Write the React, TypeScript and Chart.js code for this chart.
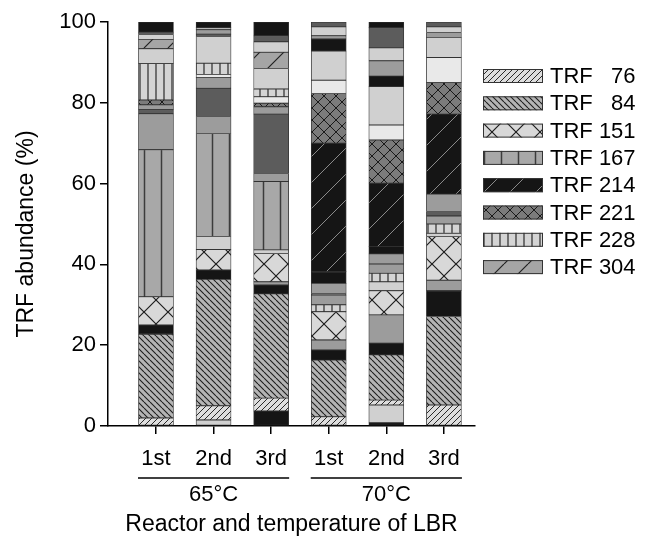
import React, { useEffect, useRef } from 'react';
import { Chart, registerables } from 'chart.js';

Chart.register(...registerables);

const categories = ['1st', '2nd', '3rd', '1st', '2nd', '3rd'];
const groupLabels = ['65°C', '70°C'];
const yTicks = [0, 20, 40, 60, 80, 100];
const legendKeys = ['T76', 'T84', 'T151', 'T167', 'T214', 'T221', 'T228', 'T304'];
const legendLabels = ['TRF   76', 'TRF   84', 'TRF 151', 'TRF 167', 'TRF 214', 'TRF 221', 'TRF 228', 'TRF 304'];

// Segments bottom -> top. T* = TRF fragments in legend; K/D/M/L/W = other (unlabelled) TRFs
const bar1Types = ['T76', 'T84', 'K', 'T151', 'T167', 'M', 'D', 'M', 'T221', 'T228', 'L', 'T304', 'L', 'D', 'K'];
const bar1Values = [2, 20.7, 2.3, 7, 36.4, 8.9, 1, 1.2, 1.2, 9, 3.7, 2.3, 1.2, 0.6, 2.5];

const bar2Types = ['L', 'T76', 'T84', 'K', 'T151', 'L', 'T167', 'M', 'D', 'M', 'W', 'T228', 'L', 'D', 'M', 'L', 'K'];
const bar2Values = [1.5, 3.5, 31.3, 2.3, 5.1, 3.2, 25.5, 4.2, 7.0, 2.7, 0.7, 2.8, 6.6, 0.6, 1.1, 0.5, 1.4];

const bar3Types = ['K', 'T76', 'T84', 'K', 'M', 'T151', 'L', 'T167', 'M', 'D', 'M', 'T221', 'W', 'T228', 'L', 'T304', 'L', 'D', 'K'];
const bar3Values = [3.7, 3.2, 25.8, 2.2, 0.8, 7.0, 0.9, 16.9, 2.0, 14.7, 1.8, 0.9, 1.6, 1.9, 5.1, 4.0, 2.6, 1.5, 3.4];

const bar4Types = ['T76', 'T84', 'K', 'M', 'T151', 'T228', 'M', 'D', 'M', 'K', 'T214', 'T221', 'W', 'L', 'K', 'M', 'L', 'D'];
const bar4Values = [2.3, 14.0, 2.5, 2.5, 7.0, 1.7, 2.4, 0.4, 2.5, 2.9, 31.8, 12.3, 3.3, 7.2, 3.0, 0.8, 2.2, 1.2];

const bar5Types = ['K', 'L', 'T76', 'T84', 'K', 'M', 'T151', 'L', 'T228', 'M', 'M', 'K', 'T214', 'T221', 'W', 'L', 'K', 'M', 'L', 'D', 'K'];
const bar5Values = [0.8, 4.4, 1.2, 11.2, 2.9, 7.0, 6.0, 2.2, 2.1, 2.3, 2.5, 1.8, 15.7, 10.7, 3.7, 9.5, 2.6, 3.8, 3.2, 5.0, 1.4];

const bar6Types = ['T76', 'T84', 'K', 'M', 'T151', 'L', 'T228', 'M', 'D', 'M', 'T214', 'T221', 'W', 'L', 'M', 'L', 'D'];
const bar6Values = [5.2, 21.9, 6.4, 2.6, 10.8, 0.8, 2.3, 2.0, 1.1, 4.3, 19.8, 7.8, 6.2, 5.0, 1.2, 1.4, 1.2];

const FONT = "'Liberation Sans', Arial, sans-serif";

function makeTile(w: number, h: number, bg: string, draw: (g: CanvasRenderingContext2D) => void) {
  const c = document.createElement('canvas');
  c.width = w;
  c.height = h;
  const g = c.getContext('2d') as CanvasRenderingContext2D;
  g.fillStyle = bg;
  g.fillRect(0, 0, w, h);
  draw(g);
  return g.createPattern(c, 'repeat') as CanvasPattern;
}

function diag(g: CanvasRenderingContext2D, s: number, dir: string, color: string, lw: number) {
  g.strokeStyle = color;
  g.lineWidth = lw;
  g.beginPath();
  for (let k = -1; k <= 1; k++) {
    if (dir === '/') {
      g.moveTo(k * s, s);
      g.lineTo(k * s + s, 0);
    } else {
      g.moveTo(k * s, 0);
      g.lineTo(k * s + s, s);
    }
  }
  g.stroke();
}

function vert(g: CanvasRenderingContext2D, x: number, h: number, color: string, lw: number) {
  g.strokeStyle = color;
  g.lineWidth = lw;
  g.beginPath();
  g.moveTo(x, 0);
  g.lineTo(x, h);
  g.stroke();
}

function buildFills(): Record<string, CanvasPattern | string> {
  return {
    T76: makeTile(6, 6, '#dedede', (g) => diag(g, 6, '/', '#2a2a2a', 1)),
    T84: makeTile(6, 6, '#b4b4b4', (g) => diag(g, 6, '\\', '#1e1e1e', 1.1)),
    T151: makeTile(24, 24, '#d8d8d8', (g) => {
      diag(g, 24, '/', '#1e1e1e', 1.2);
      diag(g, 24, '\\', '#1e1e1e', 1.2);
    }),
    T167: makeTile(17, 10, '#a8a8a8', (g) => vert(g, 8.5, 10, '#3c3c3c', 1.5)),
    T214: makeTile(26, 26, '#151515', (g) => diag(g, 26, '/', '#8a8a8a', 1)),
    T221: makeTile(12, 12, '#7b7b7b', (g) => {
      diag(g, 12, '/', '#1a1a1a', 1);
      diag(g, 12, '\\', '#1a1a1a', 1);
    }),
    T228: makeTile(8, 8, '#d4d4d4', (g) => vert(g, 4, 8, '#2a2a2a', 1.2)),
    T304: makeTile(24, 24, '#a5a5a5', (g) => diag(g, 24, '/', '#222222', 1.2)),
    K: '#151515',
    D: '#5c5c5c',
    M: '#9c9c9c',
    L: '#d0d0d0',
    W: '#e9e9e9',
  };
}

export default function App() {
  const ref = useRef<HTMLCanvasElement | null>(null);

  useEffect(() => {
    const canvas = ref.current;
    if (!canvas) return;
    const fills = buildFills();
    const bars = [
      { types: bar1Types, values: bar1Values },
      { types: bar2Types, values: bar2Values },
      { types: bar3Types, values: bar3Values },
      { types: bar4Types, values: bar4Values },
      { types: bar5Types, values: bar5Values },
      { types: bar6Types, values: bar6Values },
    ];
    const layers = Math.max(...bars.map((b) => b.values.length));
    const datasets: any[] = [];
    for (let i = 0; i < layers; i++) {
      datasets.push({
        label: 'layer ' + i,
        data: bars.map((b, j) => ({ x: j, y: i < b.values.length ? b.values[i] : null })),
        backgroundColor: bars.map((b) => (i < b.types.length ? fills[b.types[i]] : 'transparent')),
        borderColor: '#333333',
        borderWidth: 0.8,
        borderSkipped: false,
        barThickness: 35,
      });
    }

    const decor = {
      id: 'decor',
      afterDraw(chart: any) {
        const ctx = chart.ctx as CanvasRenderingContext2D;
        const xs = chart.scales.x;
        const area = chart.chartArea;
        ctx.save();
        ctx.fillStyle = '#000';
        ctx.strokeStyle = '#000';
        ctx.textAlign = 'center';
        ctx.textBaseline = 'middle';
        ctx.font = `22px ${FONT}`;
        // group lines and labels
        groupLabels.forEach((lab, gi) => {
          const x0 = xs.getPixelForValue(gi * 3) - 18;
          const x1 = xs.getPixelForValue(gi * 3 + 2) + 18;
          ctx.lineWidth = 1.5;
          ctx.beginPath();
          ctx.moveTo(x0, 478);
          ctx.lineTo(x1, 478);
          ctx.stroke();
          ctx.fillText(lab, (x0 + x1) / 2, 495);
        });
        // x title
        ctx.font = `23px ${FONT}`;
        ctx.fillText('Reactor and temperature of LBR', (area.left + area.right) / 2, 525);
        // y title
        ctx.save();
        ctx.translate(27, 234);
        ctx.rotate(-Math.PI / 2);
        ctx.fillText('TRF abundance (%)', 0, 0);
        ctx.restore();
        // legend
        ctx.font = `22px ${FONT}`;
        ctx.textAlign = 'left';
        legendKeys.forEach((k, i) => {
          const cy = 76 + i * 27.3;
          ctx.fillStyle = fills[k] as any;
          ctx.fillRect(483, cy - 7, 60, 14);
          ctx.lineWidth = 1;
          ctx.strokeStyle = '#333';
          ctx.strokeRect(483.5, cy - 6.5, 59, 13);
          ctx.fillStyle = '#000';
          ctx.fillText(legendLabels[i], 550, cy + 1);
        });
        ctx.restore();
      },
    };

    const axisGrid = {
      drawOnChartArea: false,
      drawTicks: true,
      tickLength: 8,
      color: '#000',
      lineWidth: 1.5,
      offset: false,
    };

    const chart = new Chart(canvas, {
      type: 'bar',
      data: { datasets },
      options: {
        responsive: false,
        animation: false,
        layout: { padding: { left: 0, top: 22, right: 171, bottom: 0 } },
        plugins: { legend: { display: false }, tooltip: { enabled: false } },
        scales: {
          x: {
            type: 'linear',
            offset: false,
            min: -0.833,
            max: 5.54,
            stacked: true,
            afterBuildTicks: (s: any) => {
              s.ticks = categories.map((_, i) => ({ value: i }));
            },
            afterFit: (s: any) => {
              s.height = 112;
            },
            ticks: {
              callback: (v: any) => categories[v] ?? '',
              font: { family: FONT, size: 22 },
              color: '#000',
              padding: 12,
              autoSkip: false,
              maxRotation: 0,
            },
            grid: axisGrid,
            border: { display: true, color: '#000', width: 1.5 },
          },
          y: {
            min: 0,
            max: 100,
            stacked: true,
            afterBuildTicks: (s: any) => {
              s.ticks = yTicks.map((v) => ({ value: v }));
            },
            afterFit: (s: any) => {
              s.width = 108;
            },
            ticks: {
              font: { family: FONT, size: 22 },
              color: '#000',
              padding: 4,
            },
            grid: axisGrid,
            border: { display: true, color: '#000', width: 1.5 },
          },
        },
      } as any,
      plugins: [decor],
    });
    return () => chart.destroy();
  }, []);

  return (
    <div style={{ position: 'fixed', left: 0, top: 0, width: 646, height: 538, background: '#fff' }}>
      <canvas ref={ref} width={646} height={538} style={{ width: 646, height: 538, display: 'block' }} />
    </div>
  );
}
